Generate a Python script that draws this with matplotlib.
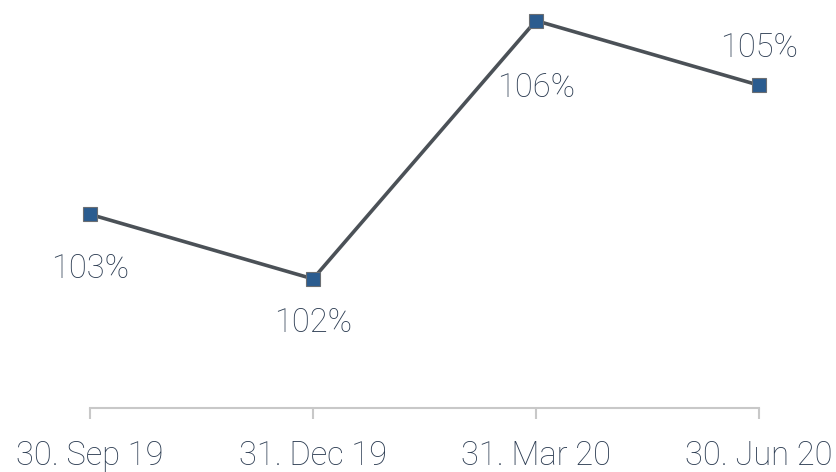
import matplotlib.pyplot as plt

# data
quarters = ["30. Sep 19", "31. Dec 19", "31. Mar 20", "30. Jun 20"]
ratio = [103, 102, 106, 105]
labels = ["103%", "102%", "106%", "105%"]
# label offsets in pixels relative to each point (y up)
label_dy = [-55, -44, -67, 37]

TEXT_COLOR = "#2c3c52"
LINE_COLOR = "#4b5157"
MARKER_COLOR = "#2b5c8f"
AXIS_COLOR = "#c8c8c8"

plt.rcParams['font.family'] = ['Roboto', 'DejaVu Sans']

fig = plt.figure(figsize=(8.36, 4.72), dpi=100)
ax = fig.add_axes([90 / 836, 64 / 472, (759 - 90) / 836, 408 / 472])

x = list(range(len(quarters)))
ax.plot(x, ratio, color=LINE_COLOR, linewidth=2.6, marker='s', markersize=10.5,
        markerfacecolor=MARKER_COLOR, markeredgecolor="#6b6e72", markeredgewidth=0.8,
        clip_on=False, zorder=3)

for xi, yi, lab, dy in zip(x, ratio, labels, label_dy):
    ax.annotate(lab, (xi, yi), xytext=(0, dy), textcoords='offset pixels',
                ha='center', va='center', fontsize=23.5, fontweight='light',
                color=TEXT_COLOR)

ax.set_xlim(0, 3)
ax.set_ylim(100, 106.32)
ax.set_xticks(x)
ax.set_xticklabels(quarters, fontsize=23.5, fontweight='light', color=TEXT_COLOR)
ax.set_yticks([])

for side in ['top', 'right', 'left']:
    ax.spines[side].set_visible(False)
ax.spines['bottom'].set_color(AXIS_COLOR)
ax.spines['bottom'].set_linewidth(1.5)
ax.tick_params(axis='x', length=8, width=1.5, color=AXIS_COLOR, pad=15)
ax.patch.set_alpha(0)

plt.savefig("out.png", dpi=100)
